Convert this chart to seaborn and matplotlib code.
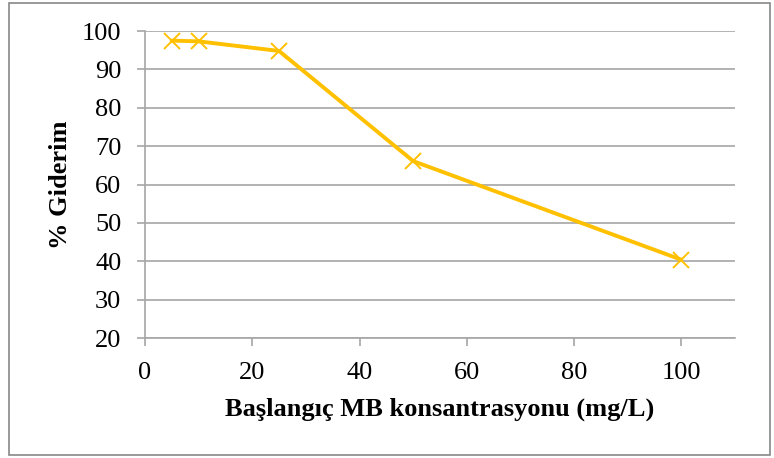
import matplotlib
matplotlib.use("Agg")
import matplotlib.pyplot as plt
import seaborn as sns
import pandas as pd
from matplotlib.patches import Rectangle

# values
concentration = [5, 10, 25, 50, 100]
removal = [97.5, 97.3, 94.8, 66.1, 40.4]
x_ticks = [0, 20, 40, 60, 80, 100]
y_ticks = [20, 30, 40, 50, 60, 70, 80, 90, 100]

df = pd.DataFrame({"conc": concentration, "removal": removal})

sns.set_theme(style="white")
plt.rcParams["font.family"] = ["Liberation Serif", "DejaVu Serif"]
plt.rcParams["text.color"] = "black"
plt.rcParams["axes.labelcolor"] = "black"

fig = plt.figure(figsize=(7.74, 4.58), dpi=100)
ax = fig.add_axes([0.1873, 0.262, 0.7623, 0.6703])

# y gridlines, Excel style
for y in y_ticks:
    ax.axhline(y, color="#a6a6a6", lw=1.2, zorder=0)

sns.lineplot(data=df, x="conc", y="removal", ax=ax, color="#FFC000",
             lw=2.8, marker="x", markersize=11, markeredgewidth=1.4,
             markeredgecolor="#FFC000", zorder=3)

ax.set_xlim(0, 110)
ax.set_ylim(20, 100)
ax.set_xticks(x_ticks)
ax.set_yticks(y_ticks)
ax.tick_params(axis="both", labelsize=19, colors="#a6a6a6", labelcolor="black",
               direction="out", length=6, width=1.2, left=True, bottom=True)
ax.tick_params(axis="x", pad=11)
ax.tick_params(axis="y", pad=11)

for side in ["top", "right"]:
    ax.spines[side].set_visible(False)
for side in ["left", "bottom"]:
    ax.spines[side].set_color("#a6a6a6")
    ax.spines[side].set_linewidth(1.2)

ax.set_xlabel("Başlangıç MB konsantrasyonu (mg/L)", fontsize=19, fontweight="bold", labelpad=10)
ax.set_ylabel("% Giderim", fontsize=19, fontweight="bold", labelpad=7)

# outer chart-area border
fig.patches.append(Rectangle((9 / 774, 3 / 458), 761 / 774, 452 / 458,
                             transform=fig.transFigure, fill=False,
                             edgecolor="#888888", lw=1.2))

fig.savefig("out.png", dpi=100, facecolor="white")
